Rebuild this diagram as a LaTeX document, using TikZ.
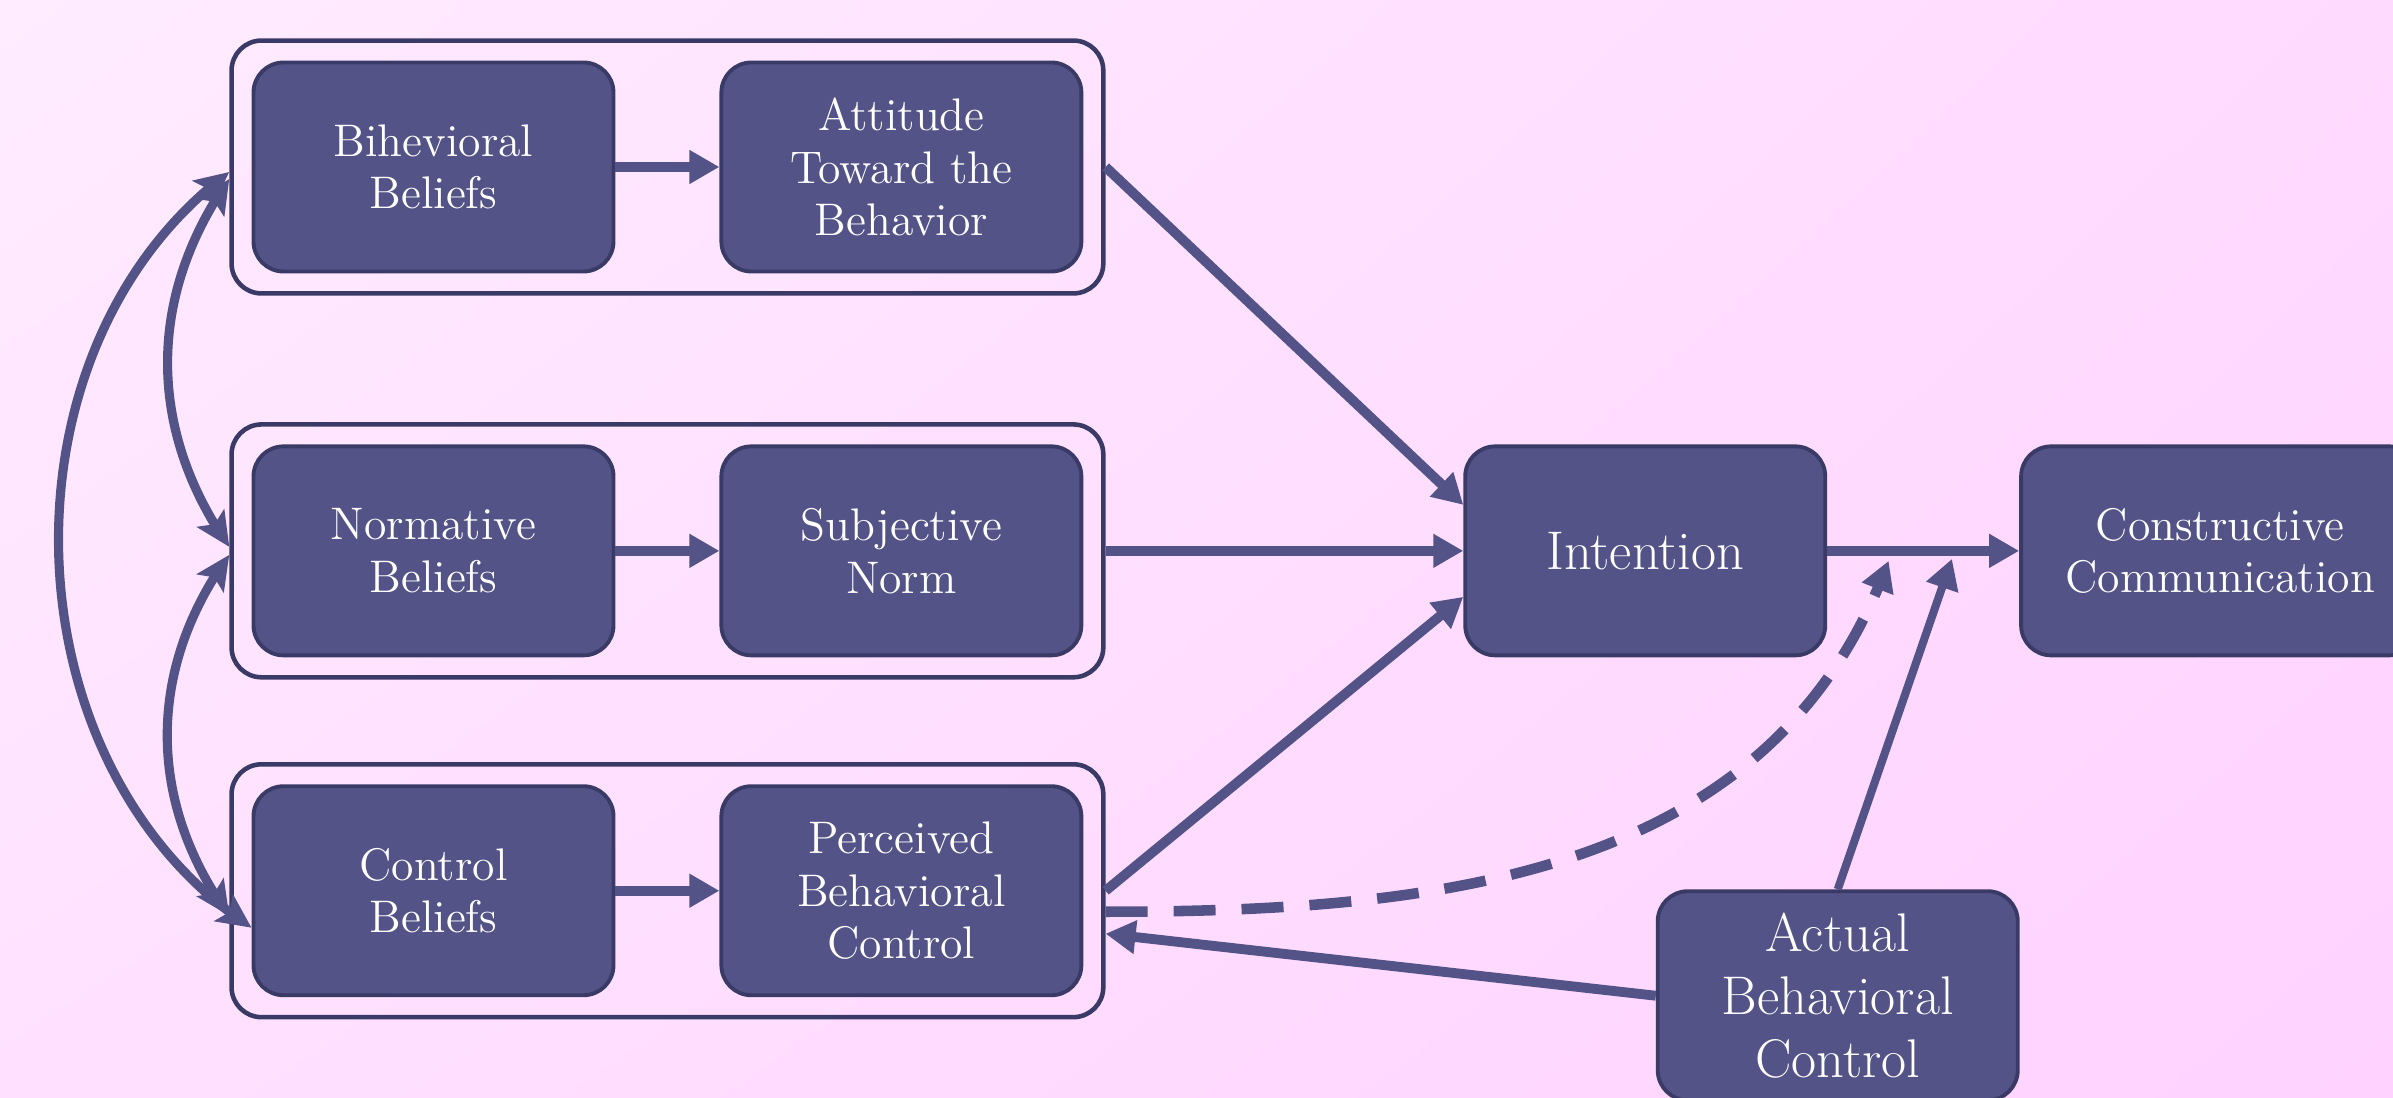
\documentclass[tikz,border=0pt]{standalone}
\usetikzlibrary{arrows.meta,backgrounds,fit,calc,bending,positioning,shadings}
\definecolor{boxfill}{HTML}{535387}
\definecolor{boxline}{HTML}{3A3A66}
\definecolor{bgul}{HTML}{FFECFF}
\definecolor{bgur}{HTML}{FFDAFF}
\definecolor{bgll}{HTML}{FFE1FF}
\definecolor{bglr}{HTML}{FFD2FF}

\begin{document}
\begin{tikzpicture}[align=center,node distance=1.04cm]
\tikzstyle{box}=[rectangle,rounded corners=0.3cm,draw=boxline,line width=1.1pt,fill=boxfill,text=white,minimum width=3.6cm,minimum height=2.09cm,inner sep=2pt,font=\fontsize{13}{15}\selectfont]
\tikzstyle{bigbox}=[box,font=\fontsize{15.5}{18}\selectfont]
\tikzstyle{grpframe}=[rectangle,rounded corners=0.3cm,draw=boxline,line width=1.3pt,inner sep=0.2cm]
\tikzstyle{link}=[-{Triangle[length=0.3cm,width=0.32cm]},line width=2.8pt,draw=boxfill]
\tikzstyle{swing}=[{Stealth[length=0.34cm,width=0.32cm,inset=0.07cm]}-{Stealth[length=0.34cm,width=0.32cm,inset=0.07cm]},line width=2.6pt,draw=boxfill]

\useasboundingbox (0,0) rectangle (23.93,-10.98);
\shade[upper left=bgul,upper right=bgur,lower left=bgll,lower right=bglr] (0,0) rectangle (23.93,-10.98);

\node[box] (bb) at (4.335,-1.67) {Bihevioral\\Beliefs};
\node[box] (att) [right=of bb] {Attitude\\Toward the\\Behavior};
\node[box] (nb) [below=1.71cm of bb] {Normative\\Beliefs};
\node[box] (sn) [right=of nb] {Subjective\\Norm};
\node[box] (cb) [below=1.27cm of nb] {Control\\Beliefs};
\node[box] (pbc) [right=of cb] {Perceived\\Behavioral\\Control};
\node[bigbox] (int) [right=3.8cm of sn] {Intention};
\node[box,minimum width=3.98cm] (cc) [right=1.92cm of int] {Constructive\\Communication};
\node[bigbox] (abc) [below=2.32cm of int,xshift=1.925cm] {Actual\\Behavioral\\Control};

\node[grpframe,fit=(bb)(att)] (grp1) {};
\node[grpframe,fit=(nb)(sn)] (grp2) {};
\node[grpframe,fit=(cb)(pbc)] (grp3) {};

\coordinate (j1) at ($(int.east)!0.32!(cc.west)+(0,-0.1)$);
\coordinate (j2) at ($(int.east)!0.65!(cc.west)+(0,-0.08)$);

\path
  (bb) edge [link] (att)
  (nb) edge [link] (sn)
  (cb) edge [link] (pbc)
  (int) edge [link] (cc);

\draw[link] (grp1.east) -- ($(int.west)+(0,0.46)$);
\draw[link] (grp2.east) -- (int.west);
\draw[link] (grp3.east) -- ($(int.west)+(0,-0.46)$);
\draw[link,line width=3pt,dash pattern=on 0.42cm off 0.26cm] ($(grp3.east)+(0,-0.21)$) to[out=0,in=-110] (j1);
\draw[link,line width=2.3pt] (abc.north) -- (j2);
\draw[link] (abc.west) -- ($(grp3.east)+(0,-0.43)$);

\draw[swing] ($(grp1.west)+(0,-0.05)$) to[bend right=55] ($(cb.west)+(0,-0.37)$);
\draw[swing] ($(grp1.west)+(0,-0.12)$) to[bend right=35] ($(grp2.west)+(0,0.04)$);
\draw[swing] ($(grp2.west)+(0,-0.04)$) to[bend right=36] ($(grp3.west)+(0,-0.25)$);
\end{tikzpicture}
\end{document}
